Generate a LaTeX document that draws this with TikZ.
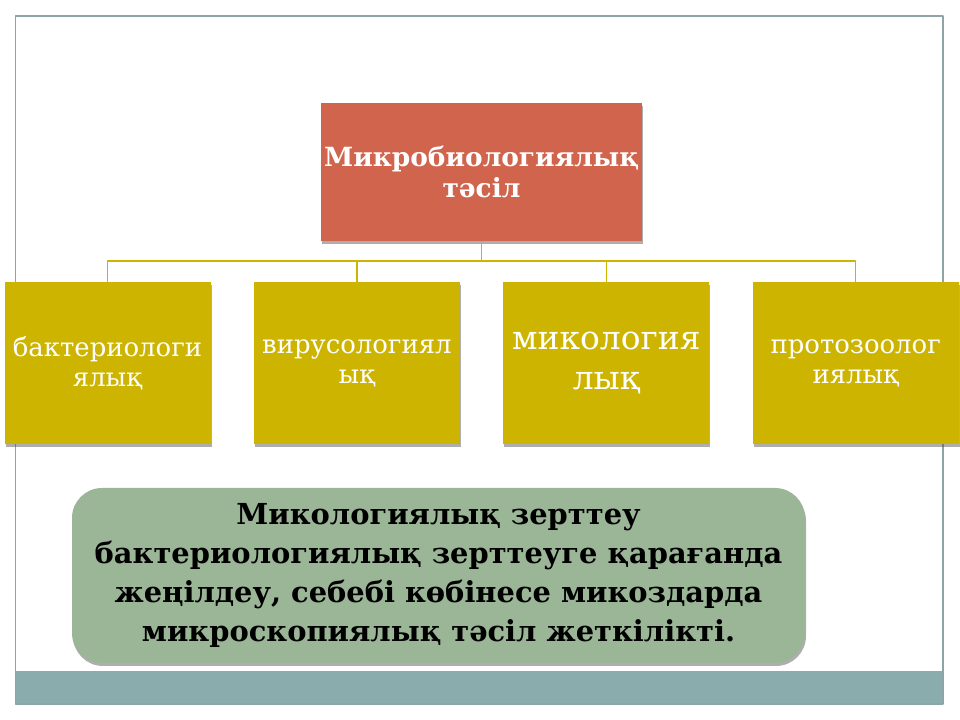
\documentclass[tikz,border=0pt]{standalone}
\usepackage{fontspec}
\setmainfont{DejaVu Serif}
\usetikzlibrary{positioning,shadows}
\definecolor{rootcol}{RGB}{208,100,76}
\definecolor{leafcol}{RGB}{205,180,0}
\definecolor{notecol}{RGB}{155,181,151}
\definecolor{framecol}{RGB}{143,165,165}
\definecolor{bandcol}{RGB}{138,172,172}

\begin{document}
\begin{tikzpicture}[line join=bevel,
  shade/.style={drop shadow={shadow xshift=1bp,shadow yshift=-3bp,opacity=0.45,fill=black!70}},
  rootbox/.style={shade,fill=rootcol,text=white,minimum width=321bp,minimum height=138bp,
    align=center,inner sep=0pt,font=\bfseries\fontsize{26.5}{32}\selectfont},
  leafbox/.style={shade,fill=leafcol,text=white,minimum width=206bp,minimum height=162bp,
    align=center,inner sep=0pt,font=\fontsize{26}{30}\selectfont},
  notebox/.style={shade,fill=notecol,rounded corners=30bp,minimum width=733bp,minimum height=175bp,
    align=center,inner sep=0pt,font=\bfseries\fontsize{29}{39}\selectfont},
  link/.style={draw=leafcol,line width=1.2bp}]
  \useasboundingbox (0bp,0bp) rectangle (960bp,720bp);
%%
  % frame and band
  \fill[bandcol] (15.5bp,16bp) rectangle (943bp,49bp);
  \draw[framecol,line width=1.5bp] (15.5bp,16bp) rectangle (943bp,704bp);
  % Node: root
  \node[rootbox] (root) at (481.5bp,548bp) {Микробиологиялық\\тәсіл};
  % Node: bact
  \node[leafbox] (bact) at (107.5bp,357bp) {бактериологи\\ялық};
  % Node: vir
  \node[leafbox,right=43bp of bact] (vir) {вирусологиял\\ық};
  % Node: myc
  \node[leafbox,right=43bp of vir,font=\fontsize{33}{41}\selectfont] (myc) {микология\\лық};
  % Node: prot
  \node[leafbox,right=43bp of myc] (prot) {протозоолог\\иялық};
  % Node: note
  \node[notebox] (note) at (438.5bp,144.5bp)
    {Микологиялық зерттеу\\бактериологиялық зерттеуге қарағанда\\жеңілдеу, себебі көбінесе микоздарда\\микроскопиялық тәсіл жеткілікті.};
  \coordinate (bus) at (481.5bp,459bp);
  % Edge: root -> bus
  \draw[link] (root.south) -- (bus);
  % Edge: bus -> leaves
  \foreach \leaf in {bact,vir,myc,prot}
    \draw[link] (\leaf.north) |- (bus);
%
\end{tikzpicture}
\end{document}
